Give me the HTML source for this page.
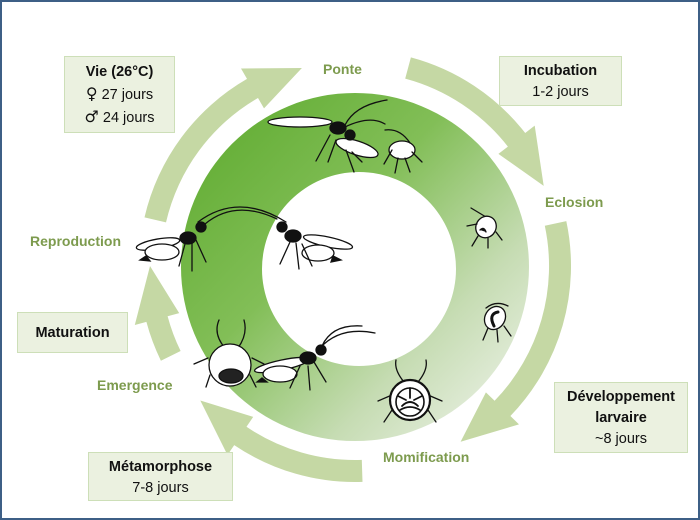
<!DOCTYPE html>
<html><head><meta charset="utf-8"><style>
html,body{margin:0;padding:0;background:#fff}
#wrap{position:relative;width:700px;height:520px;overflow:hidden;background:#fff}
#frame{position:absolute;left:0;top:0;width:696px;height:516px;border:2px solid #3d5f86}
svg{position:absolute;left:0;top:0}
.box{position:absolute;background:#ebf1e0;border:1px solid #cddfb8;text-align:center;font-family:"Liberation Sans","DejaVu Sans",sans-serif;font-size:14.5px;color:#111;line-height:21px;box-sizing:border-box}
.box b{font-weight:bold}
.sym{font-family:"DejaVu Sans",sans-serif;font-size:16px}
.lbl{position:absolute;font-family:"Liberation Sans","DejaVu Sans",sans-serif;font-weight:bold;font-size:14px;color:#7d9b4e;white-space:nowrap}
</style></head><body><div id="wrap">
<svg width="700" height="520" viewBox="0 0 700 520">
<defs>
<linearGradient id="g" x1="190" y1="110" x2="520" y2="430" gradientUnits="userSpaceOnUse">
<stop offset="0" stop-color="#5eab2f"/>
<stop offset="0.4" stop-color="#82be57"/>
<stop offset="0.72" stop-color="#c6dcb3"/>
<stop offset="1" stop-color="#f0f4ec"/>
</linearGradient>
</defs>
<path fill="url(#g)" fill-rule="evenodd" d="M181,267a174,174 0 1,0 348,0a174,174 0 1,0 -348,0Z M262,269a97,97 0 1,0 194,0a97,97 0 1,0 -194,0Z"/>
<g id="arrows" fill="#c5d8a4"></g>
<g fill="#fff" stroke="#111" stroke-width="1.3" stroke-linecap="round">
<ellipse cx="300" cy="122" rx="32" ry="5"/>
<path d="M345,125 q10,-20 42,-25" fill="none"/>
<path d="M345,127 q25,-12 40,-3" fill="none"/>
<ellipse cx="357" cy="148" rx="22" ry="7" transform="rotate(18 357 148)"/>
<ellipse cx="338" cy="128" rx="8" ry="6" fill="#111"/>
<circle cx="350" cy="135" r="5" fill="#111"/>
<path d="M330,135 l-14,26 M336,140 l-8,22 M346,150 l8,22 M352,152 l10,10" fill="none"/>
<ellipse cx="402" cy="150" rx="13" ry="9"/>
<path d="M392,150 l-8,14 M398,158 l-3,15 M405,158 l5,14 M412,152 l10,10 M410,143 q-10,-15 -25,-13" fill="none"/>
<path d="M198,222 q40,-30 88,0 M205,224 q30,-25 72,-5" fill="none"/>
<ellipse cx="158" cy="244" rx="22" ry="5" transform="rotate(-10 158 244)"/>
<ellipse cx="162" cy="252" rx="17" ry="8"/>
<path d="M146,256 l-6,4 l10,1Z" fill="#111"/>
<ellipse cx="188" cy="238" rx="8" ry="6" fill="#111"/>
<circle cx="201" cy="227" r="5" fill="#111"/>
<path d="M185,244 l-6,22 M192,243 l0,28 M196,240 l10,22" fill="none"/>
<ellipse cx="328" cy="242" rx="25" ry="5" transform="rotate(12 328 242)"/>
<ellipse cx="318" cy="253" rx="16" ry="8"/>
<path d="M333,256 l8,4 l-10,2Z" fill="#111"/>
<ellipse cx="293" cy="236" rx="8" ry="6" fill="#111"/>
<circle cx="282" cy="227" r="5" fill="#111"/>
<path d="M290,242 l-10,22 M296,243 l3,26 M302,244 l10,22" fill="none"/>
<path d="M491,220 l-20,-12" fill="none"/>
<ellipse cx="486" cy="227" rx="10" ry="11" transform="rotate(30 486 227)"/>
<path d="M480,230 q4,-4 6,2" fill="#111"/>
<path d="M478,236 l-6,10 M488,238 l0,10 M496,232 l6,8 M477,224 l-10,2" fill="none"/>
<ellipse cx="495" cy="318" rx="10" ry="12" transform="rotate(30 495 318)"/>
<path d="M498,312 q-10,2 -4,14" fill="none" stroke-width="3"/>
<path d="M488,328 l-5,12 M497,330 l1,12 M504,326 l7,10 M486,308 q10,-8 22,-2" fill="none"/>
<path d="M404,382 q-10,-12 -8,-22 M418,382 q10,-12 8,-22 M392,395 l-14,6 M428,395 l14,6 M392,410 l-8,12 M428,410 l8,12" fill="none"/>
<circle cx="410" cy="400" r="20" stroke-width="2.2"/>
<circle cx="410" cy="402" r="14" stroke-width="1.6"/>
<path d="M402,406 q8,-8 16,0 M400,410 q10,-6 20,0 M410,388 l0,10 M398,396 l8,4 M422,396 l-8,4" fill="none" stroke-width="1.8"/>
<path d="M225,348 q-12,-14 -6,-28 M238,348 q10,-14 6,-28 M208,358 l-14,6 M252,358 l12,6 M210,375 l-4,12 M250,375 l6,12" fill="none"/>
<circle cx="230" cy="365" r="21"/>
<ellipse cx="231" cy="376" rx="12" ry="7" fill="#222"/>
<path d="M320,348 q20,-22 55,-15 M322,346 q10,-22 40,-20" fill="none"/>
<ellipse cx="282" cy="365" rx="28" ry="5" transform="rotate(-12 282 365)"/>
<ellipse cx="280" cy="374" rx="17" ry="8"/>
<path d="M262,378 l-5,4 l10,0Z" fill="#111"/>
<ellipse cx="308" cy="358" rx="8" ry="6" fill="#111"/>
<circle cx="321" cy="350" r="5" fill="#111"/>
<path d="M300,366 l-10,22 M308,366 l2,24 M314,362 l12,20" fill="none"/>
</g>
</svg>
<div id="frame"></div>
<div class="box" style="left:64px;top:56px;width:111px;height:77px;padding-top:5px"><b>Vie (26°C)</b><br><span class="sym">♀</span> 27 jours<br><span class="sym">♂</span> 24 jours</div>
<div class="box" style="left:499px;top:56px;width:123px;height:50px;padding-top:4px"><b>Incubation</b><br>1-2 jours</div>
<div class="box" style="left:17px;top:312px;width:111px;height:41px;padding-top:10px"><b>Maturation</b></div>
<div class="box" style="left:554px;top:382px;width:134px;height:71px;padding-top:4px"><b>Développement<br>larvaire</b><br>~8 jours</div>
<div class="box" style="left:88px;top:452px;width:145px;height:49px;padding-top:4px"><b>Métamorphose</b><br>7-8 jours</div>
<div class="lbl" style="left:323px;top:61px">Ponte</div>
<div class="lbl" style="left:545px;top:194px">Eclosion</div>
<div class="lbl" style="left:30px;top:233px">Reproduction</div>
<div class="lbl" style="left:97px;top:377px">Emergence</div>
<div class="lbl" style="left:383px;top:449px">Momification</div>
</div>
<script>
(function(){
var cx=355,cy=266,r=205,hw=11,hh=23,hl=15;
function P(a,rr){a=a*Math.PI/180;return (cx+rr*Math.cos(a)).toFixed(1)+","+(cy+rr*Math.sin(a)).toFixed(1);}
function arrow(a0,a1){
var b=a1-hl;var ro=r+hw,ri=r-hw;
var d="M"+P(a0,ro)+" A"+ro+","+ro+" 0 0,1 "+P(b,ro)+" L"+P(b,r+hh)+" L"+P(a1,r)+" L"+P(b,r-hh)+" L"+P(b,ri)+" A"+ri+","+ri+" 0 0,0 "+P(a0,ri)+" Z";
var p=document.createElementNS("http://www.w3.org/2000/svg","path");p.setAttribute("d",d);document.getElementById("arrows").appendChild(p);}
arrow(193,255);arrow(285,337);arrow(348,419);arrow(88,139);arrow(154,180);
})();
</script>
</body></html>
